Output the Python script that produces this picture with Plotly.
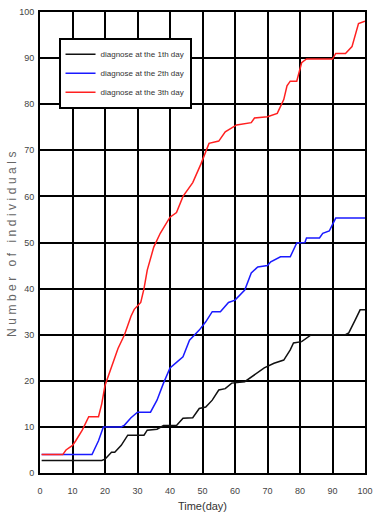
import plotly.graph_objects as go

# Day-1 diagnosis series
day1_x = [0.5, 19, 20, 22, 23, 25, 27, 32, 33, 36, 38, 42, 44, 47, 49, 51, 53, 55, 57, 59, 63, 66, 69, 72, 75, 77, 78, 80.5, 82, 83.5, 94, 95, 97, 98.5, 100]
day1_y = [2.7, 2.7, 3, 4.5, 4.5, 6, 8.2, 8.2, 9.3, 9.5, 10.3, 10.3, 11.9, 12, 14, 14.3, 15.8, 18, 18.3, 19.5, 19.8, 21.3, 22.8, 23.8, 24.5, 26.7, 28.2, 28.5, 29.3, 30, 30, 30.4, 33.2, 35.4, 35.4]

# Day-2 diagnosis series
day2_x = [0.5, 16, 18, 19.5, 25, 26, 28, 30, 34, 36, 38, 40, 42, 44, 46, 49, 51, 53, 55.5, 58, 60, 63, 65, 67, 70, 71, 74, 77, 79, 81.5, 82, 86, 87, 89, 91, 100]
day2_y = [4, 4, 7, 10, 10, 10.4, 12, 13.2, 13.2, 15.8, 19.5, 22.8, 24, 25.2, 28.8, 31, 32.8, 35, 35, 37, 37.5, 39.7, 43.4, 44.7, 45, 45.8, 46.9, 46.9, 49.9, 50, 51, 51, 52, 52.5, 55.3, 55.3]

# Day-3 diagnosis series
day3_x = [0.5, 7, 8, 10, 11, 13, 15, 18, 19, 20, 22, 24, 26, 28, 29, 31, 32, 33, 35, 37, 40, 42, 44, 45, 47, 49.5, 52, 55, 57, 60.5, 65, 66, 70, 73, 74, 75, 76, 77, 79, 80.5, 82, 90, 91, 94, 96, 98, 100]
day3_y = [4, 4, 5, 6, 7, 9.3, 12.2, 12.2, 15, 19, 23, 27, 30, 34, 35.5, 37, 40, 44, 49, 52, 55.5, 56.5, 60, 61, 63, 67, 71.5, 72, 74, 75.5, 76, 77, 77.3, 78, 79.5, 81, 84, 85, 85, 89, 89.8, 89.8, 91, 91, 92.5, 97.5, 98]

names = ["diagnose at the 1th day", "diagnose at the 2th day", "diagnose at the 3th day"]
colors = ["#111111", "#1a1aff", "#ff2020"]

x_ticks = [0, 10, 20, 30, 40, 50, 60, 70, 80, 90, 100]
y_ticks = [0, 10, 20, 30, 40, 50, 60, 70, 80, 90, 100]

fig = go.Figure()
for xs, ys, nm, c in zip([day1_x, day2_x, day3_x], [day1_y, day2_y, day3_y], names, colors):
    fig.add_trace(go.Scatter(x=xs, y=ys, mode="lines", name=nm,
                             line=dict(color=c, width=1.5)))

font_family = "Liberation Sans Narrow, Liberation Sans, Arial"

fig.update_layout(
    width=380, height=518,
    margin=dict(l=40, r=7, t=12, b=45),
    paper_bgcolor="white", plot_bgcolor="white",
    font=dict(family=font_family, color="#444444", size=9),
    showlegend=True,
    legend=dict(x=0.057, y=0.944, xanchor="left", yanchor="top",
                bgcolor="white", bordercolor="black", borderwidth=2,
                font=dict(size=8, color="#333333", family=font_family),
                itemwidth=30, tracegroupgap=0),
    xaxis=dict(range=[0, 100], tickvals=x_ticks, ticktext=[str(v) for v in x_ticks],
               showgrid=True, gridcolor="black", gridwidth=2,
               showline=True, linecolor="black", linewidth=2, mirror=True,
               zeroline=False, ticks="", ticklabelstandoff=8,
               title=dict(text="Time(day)", font=dict(size=11, color="#333333"), standoff=8)),
    yaxis=dict(range=[0, 100], tickvals=y_ticks, ticktext=[str(v) for v in y_ticks],
               showgrid=True, gridcolor="black", gridwidth=2,
               showline=True, linecolor="black", linewidth=2, mirror=True,
               zeroline=False, ticks="", ticklabelstandoff=2,
               title=dict(text='<span style="letter-spacing:3.5px">Number of individuals</span>',
                          font=dict(size=12, color="#666666"), standoff=0)),
)

fig.write_html("out.html")
